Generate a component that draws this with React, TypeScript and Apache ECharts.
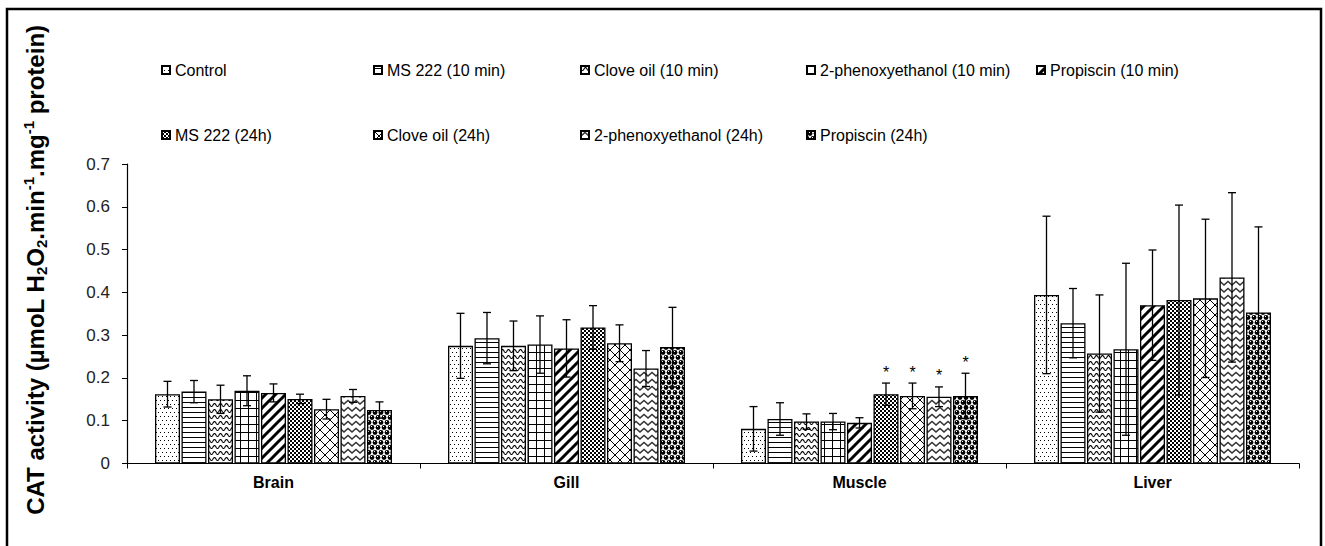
import React, { useEffect, useRef } from "react";
import * as echarts from "echarts";

const categories = ["Brain", "Gill", "Muscle", "Liver"];
const treatments = [
  "Control",
  "MS 222 (10 min)",
  "Clove oil (10 min)",
  "2-phenoxyethanol (10 min)",
  "Propiscin (10 min)",
  "MS 222 (24h)",
  "Clove oil (24h)",
  "2-phenoxyethanol (24h)",
  "Propiscin (24h)",
];

// mean values per organ, in treatment order
const meanBrain = [0.162, 0.168, 0.15, 0.17, 0.165, 0.151, 0.127, 0.158, 0.125];
const meanGill = [0.275, 0.293, 0.275, 0.278, 0.269, 0.318, 0.281, 0.222, 0.272];
const meanMuscle = [0.081, 0.104, 0.098, 0.098, 0.095, 0.162, 0.158, 0.156, 0.158];
const meanLiver = [0.394, 0.328, 0.257, 0.267, 0.37, 0.382, 0.386, 0.435, 0.353];

// standard deviations per organ
const sdBrain = [0.03, 0.026, 0.033, 0.035, 0.021, 0.011, 0.023, 0.015, 0.019];
const sdGill = [0.076, 0.06, 0.058, 0.067, 0.067, 0.051, 0.043, 0.042, 0.093];
const sdMuscle = [0.052, 0.038, 0.018, 0.019, 0.012, 0.026, 0.03, 0.023, 0.053];
const sdLiver = [0.184, 0.081, 0.137, 0.201, 0.129, 0.222, 0.185, 0.198, 0.2];

// [category index, treatment index] marked with *
const significant = [
  [2, 5],
  [2, 6],
  [2, 7],
  [2, 8],
];

const FONT = "'Liberation Sans', Arial, Helvetica, sans-serif";
const BAR_W = 25;
const BAR_GAP = 0.06;
const legendLeft = [161, 373, 580, 806, 1036, 161, 373, 580, 806];
const legendTop = [61, 61, 61, 61, 61, 126, 126, 126, 126];

function pat(w: number, h: number, draw: (ctx: CanvasRenderingContext2D) => void) {
  const c = document.createElement("canvas");
  c.width = w;
  c.height = h;
  const ctx = c.getContext("2d") as CanvasRenderingContext2D;
  ctx.fillStyle = "#fff";
  ctx.fillRect(0, 0, w, h);
  draw(ctx);
  return { image: c, repeat: "repeat", imageWidth: w, imageHeight: h };
}

function makePatterns() {
  const p: any[] = [];
  // 0 Control: stipple dots
  p.push(
    pat(4, 8, (ctx) => {
      ctx.fillStyle = "#000";
      ctx.fillRect(0, 0, 1, 1);
      ctx.fillRect(2, 4, 1, 1);
    })
  );
  // 1 horizontal lines
  p.push(
    pat(4, 5, (ctx) => {
      ctx.fillStyle = "#000";
      ctx.fillRect(0, 2, 4, 1);
    })
  );
  // 2 waves
  p.push(
    pat(6, 6, (ctx) => {
      ctx.strokeStyle = "#000";
      ctx.lineWidth = 1.1;
      ctx.beginPath();
      for (let i = -2; i <= 26; i++) {
        const x = i * 0.25;
        const y = 3 + 1.5 * Math.sin((2 * Math.PI * x) / 6);
        if (i === -2) ctx.moveTo(x, y);
        else ctx.lineTo(x, y);
      }
      ctx.stroke();
    })
  );
  // 3 grid
  p.push(
    pat(8, 8, (ctx) => {
      ctx.fillStyle = "#000";
      ctx.fillRect(0, 0, 8, 1);
      ctx.fillRect(0, 0, 1, 8);
    })
  );
  // 4 wide diagonal stripes
  p.push(
    pat(10, 10, (ctx) => {
      ctx.strokeStyle = "#000";
      ctx.lineWidth = 3;
      ctx.beginPath();
      for (const k of [-10, 0, 10]) {
        ctx.moveTo(k - 1, 11);
        ctx.lineTo(k + 11, -1);
      }
      ctx.stroke();
    })
  );
  // 5 checker
  p.push(
    pat(4, 4, (ctx) => {
      ctx.fillStyle = "#000";
      ctx.fillRect(0, 0, 4, 4);
      ctx.fillStyle = "#fff";
      ctx.fillRect(0, 0, 2, 2);
      ctx.fillRect(2, 2, 2, 2);
    })
  );
  // 6 diagonal lattice
  p.push(
    pat(10, 10, (ctx) => {
      ctx.strokeStyle = "#000";
      ctx.lineWidth = 1;
      ctx.beginPath();
      ctx.moveTo(-1, -1);
      ctx.lineTo(11, 11);
      ctx.moveTo(-1, 11);
      ctx.lineTo(11, -1);
      ctx.stroke();
    })
  );
  // 7 zigzag
  p.push(
    pat(8, 7, (ctx) => {
      ctx.strokeStyle = "#333";
      ctx.lineWidth = 1.4;
      ctx.beginPath();
      ctx.moveTo(-4, 1.5);
      ctx.lineTo(0, 5);
      ctx.lineTo(4, 1.5);
      ctx.lineTo(8, 5);
      ctx.lineTo(12, 1.5);
      ctx.stroke();
    })
  );
  // 8 spheres
  p.push(
    pat(6, 10, (ctx) => {
      ctx.fillStyle = "#000";
      for (const [cx, cy] of [
        [3, 2.5],
        [0, 7.5],
        [6, 7.5],
        [3, 12.5],
        [0, -2.5],
        [6, -2.5],
      ]) {
        ctx.beginPath();
        ctx.arc(cx, cy, 2.4, 0, Math.PI * 2);
        ctx.fill();
      }
      ctx.fillStyle = "#fff";
      ctx.fillRect(2, 1, 1, 1);
      ctx.fillRect(5, 6, 1, 1);
    })
  );
  return p;
}

function barOffset(s: number) {
  const n = treatments.length;
  const total = n * BAR_W * (1 + BAR_GAP) - BAR_W * BAR_GAP;
  return -total / 2 + s * BAR_W * (1 + BAR_GAP) + BAR_W / 2;
}

export default function App() {
  const ref = useRef<HTMLDivElement>(null);

  useEffect(() => {
    if (!ref.current) return;
    const chart = echarts.init(ref.current, undefined, { renderer: "svg" });
    const patterns = makePatterns();
    const means = [meanBrain, meanGill, meanMuscle, meanLiver];
    const sds = [sdBrain, sdGill, sdMuscle, sdLiver];

    const barSeries = treatments.map((name, s) => ({
      type: "bar",
      name,
      data: categories.map((_, c) => means[c][s]),
      barWidth: BAR_W,
      barGap: BAR_GAP * 100 + "%",
      itemStyle: { color: patterns[s], borderColor: "#000", borderWidth: 1.3 },
      emphasis: { disabled: true },
      z: 2,
    }));

    const errData: number[][] = [];
    categories.forEach((_, c) => {
      treatments.forEach((__, s) => {
        const sig = significant.some(([sc, ss]) => sc === c && ss === s) ? 1 : 0;
        errData.push([c, s, means[c][s], sds[c][s], sig]);
      });
    });

    const errSeries = {
      type: "custom",
      data: errData,
      encode: { x: 0, y: 2 },
      z: 10,
      silent: true,
      renderItem: (params: any, api: any) => {
        const c = api.value(0);
        const s = api.value(1);
        const m = api.value(2);
        const sd = api.value(3);
        const sig = api.value(4);
        const base = api.coord([c, 0]);
        const x = base[0] + barOffset(s);
        const yTop = api.coord([c, m + sd])[1];
        const yBot = api.coord([c, m - sd])[1];
        const ls = { stroke: "#000", lineWidth: 1.3 };
        const children: any[] = [
          { type: "line", shape: { x1: x, y1: yTop, x2: x, y2: yBot }, style: ls },
          { type: "line", shape: { x1: x - 4, y1: yTop, x2: x + 4, y2: yTop }, style: ls },
          { type: "line", shape: { x1: x - 4, y1: yBot, x2: x + 4, y2: yBot }, style: ls },
        ];
        if (sig) {
          children.push({
            type: "text",
            x,
            y: yTop - 11,
            style: {
              text: "*",
              fill: "#000",
              font: "16px " + FONT,
              align: "center",
              verticalAlign: "middle",
              textAlign: "center",
              textVerticalAlign: "middle",
            },
          });
        }
        return { type: "group", children };
      },
    };

    const legends = treatments.map((name, i) => ({
      data: [name],
      left: legendLeft[i],
      top: legendTop[i],
      padding: 0,
      icon: "rect",
      itemWidth: 8,
      itemHeight: 8,
      selectedMode: false,
      textStyle: { fontFamily: FONT, fontSize: 16, color: "#000", lineHeight: 18 },
    }));

    chart.setOption({
      animation: false,
      backgroundColor: "#fff",
      legend: legends,
      grid: { left: 127, right: 26, top: 164, bottom: 82.5, containLabel: false },
      xAxis: {
        type: "category",
        data: categories,
        axisLine: { lineStyle: { color: "#000", width: 1.2 } },
        axisTick: { show: true, length: 5, alignWithLabel: false, lineStyle: { color: "#000" } },
        axisLabel: { fontFamily: FONT, fontWeight: "bold", fontSize: 16, color: "#000", margin: 11 },
      },
      yAxis: {
        type: "value",
        min: 0,
        max: 0.7,
        interval: 0.1,
        splitLine: { show: false },
        axisLine: { show: true, lineStyle: { color: "#000", width: 1.2 } },
        axisTick: { show: true, length: 5, lineStyle: { color: "#000" } },
        axisLabel: {
          fontFamily: FONT,
          fontSize: 17,
          color: "#222",
          margin: 17,
          formatter: (v: number) => (v === 0 ? "0" : v.toFixed(1)),
        },
      },
      graphic: [
        {
          type: "rect",
          shape: { x: 7, y: 9, width: 1314, height: 570 },
          style: { fill: "none", stroke: "#000", lineWidth: 2.5 },
          silent: true,
        },
        {
          type: "text",
          x: 35,
          y: 270,
          rotation: Math.PI / 2,
          silent: true,
          style: {
            text: "{a|CAT activity (µmoL H}{s|2}{a|O}{s|2}{a|.min}{p|-1}{a|.mg}{p|-1}{a| protein)}",
            align: "center",
            verticalAlign: "middle",
            textAlign: "center",
            textVerticalAlign: "middle",
            fill: "#000",
            rich: {
              a: { fontFamily: FONT, fontWeight: "bold", fontSize: 24, lineHeight: 28, fill: "#000", color: "#000" },
              s: { fontFamily: FONT, fontWeight: "bold", fontSize: 15, lineHeight: 18, verticalAlign: "bottom", fill: "#000", color: "#000" },
              p: { fontFamily: FONT, fontWeight: "bold", fontSize: 15, lineHeight: 18, verticalAlign: "top", fill: "#000", color: "#000" },
            },
          },
        },
      ],
      series: [...barSeries, errSeries],
    });

    return () => chart.dispose();
  }, []);

  return (
    <div
      ref={ref}
      style={{ position: "absolute", left: 0, top: 0, width: 1325, height: 546, background: "#fff" }}
    />
  );
}
